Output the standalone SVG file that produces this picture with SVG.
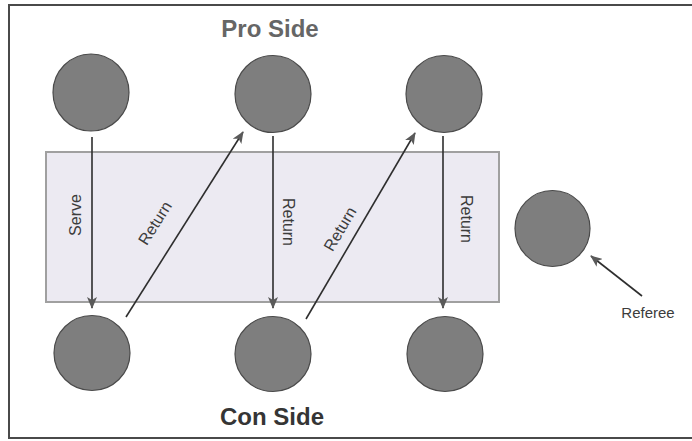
<svg xmlns="http://www.w3.org/2000/svg" width="692" height="441" viewBox="0 0 692 441">
<defs>
<style>
.player{fill:#7e7e7e;stroke:#4a4a4a;stroke-width:1.2}
.conn{stroke:#2e2e2e;stroke-width:1.6;fill:none;marker-end:url(#ah)}
.lbl{font-family:"Liberation Sans",Arial,sans-serif;font-size:16px;fill:#3c3c3c}
.ref{font-family:"Liberation Sans",Arial,sans-serif;font-size:15px;fill:#3c3c3c}
.side{font-family:"Liberation Sans",Arial,sans-serif;font-size:24px;font-weight:bold}
</style>
<marker id="ah" viewBox="0 0 12 10" refX="11" refY="5" markerWidth="12" markerHeight="10" markerUnits="userSpaceOnUse" orient="auto">
<path d="M0,0 L12,5 L0,10 L3,5 Z" fill="#5a5a5a"/>
</marker>
</defs>
<rect width="692" height="441" fill="#ffffff"/>
<rect id="frame" x="9" y="5" width="700" height="433" fill="none" stroke="#4a4a4a" stroke-width="2"/>
<g id="court">
<rect x="46" y="152" width="453" height="150" fill="#eceaf2" stroke="#a0a0a0" stroke-width="2"/>
</g>
<g id="pro-side-label"><text class="side" x="270" y="37" text-anchor="middle" fill="#666">Pro Side</text></g>
<g id="con-side-label"><text class="side" x="272" y="425" text-anchor="middle" fill="#353535">Con Side</text></g>
<g id="pro1"><ellipse class="player" cx="91" cy="92.5" rx="38" ry="38.5"/></g>
<g id="pro2"><ellipse class="player" cx="273" cy="94" rx="38" ry="38.5"/></g>
<g id="pro3"><ellipse class="player" cx="444" cy="94" rx="38" ry="38.5"/></g>
<g id="con1"><ellipse class="player" cx="92" cy="353" rx="38" ry="37.5"/></g>
<g id="con2"><ellipse class="player" cx="273" cy="354" rx="38" ry="37.5"/></g>
<g id="con3"><ellipse class="player" cx="445" cy="354" rx="38" ry="37.5"/></g>
<g id="referee"><ellipse class="player" cx="552.5" cy="228.5" rx="37.5" ry="38"/>
<text class="ref" x="648" y="318" text-anchor="middle">Referee</text></g>
<g id="connectors">
<line class="conn" x1="92" y1="137" x2="92" y2="308"/>
<line class="conn" x1="126" y1="317" x2="243" y2="132"/>
<line class="conn" x1="273" y1="136" x2="273" y2="308"/>
<line class="conn" x1="306" y1="319" x2="415" y2="133"/>
<line class="conn" x1="443" y1="136" x2="443" y2="308"/>
<line class="conn" x1="642" y1="296" x2="591" y2="256"/>
<text class="lbl" transform="translate(75,215) rotate(-90)" text-anchor="middle" dominant-baseline="central">Serve</text>
<text class="lbl" transform="translate(155,223) rotate(-57.7)" text-anchor="middle" dominant-baseline="central">Return</text>
<text class="lbl" transform="translate(288,222) rotate(90)" text-anchor="middle" dominant-baseline="central">Return</text>
<text class="lbl" transform="translate(340,229) rotate(-59.6)" text-anchor="middle" dominant-baseline="central">Return</text>
<text class="lbl" transform="translate(466,219) rotate(90)" text-anchor="middle" dominant-baseline="central">Return</text>
</g>
</svg>
